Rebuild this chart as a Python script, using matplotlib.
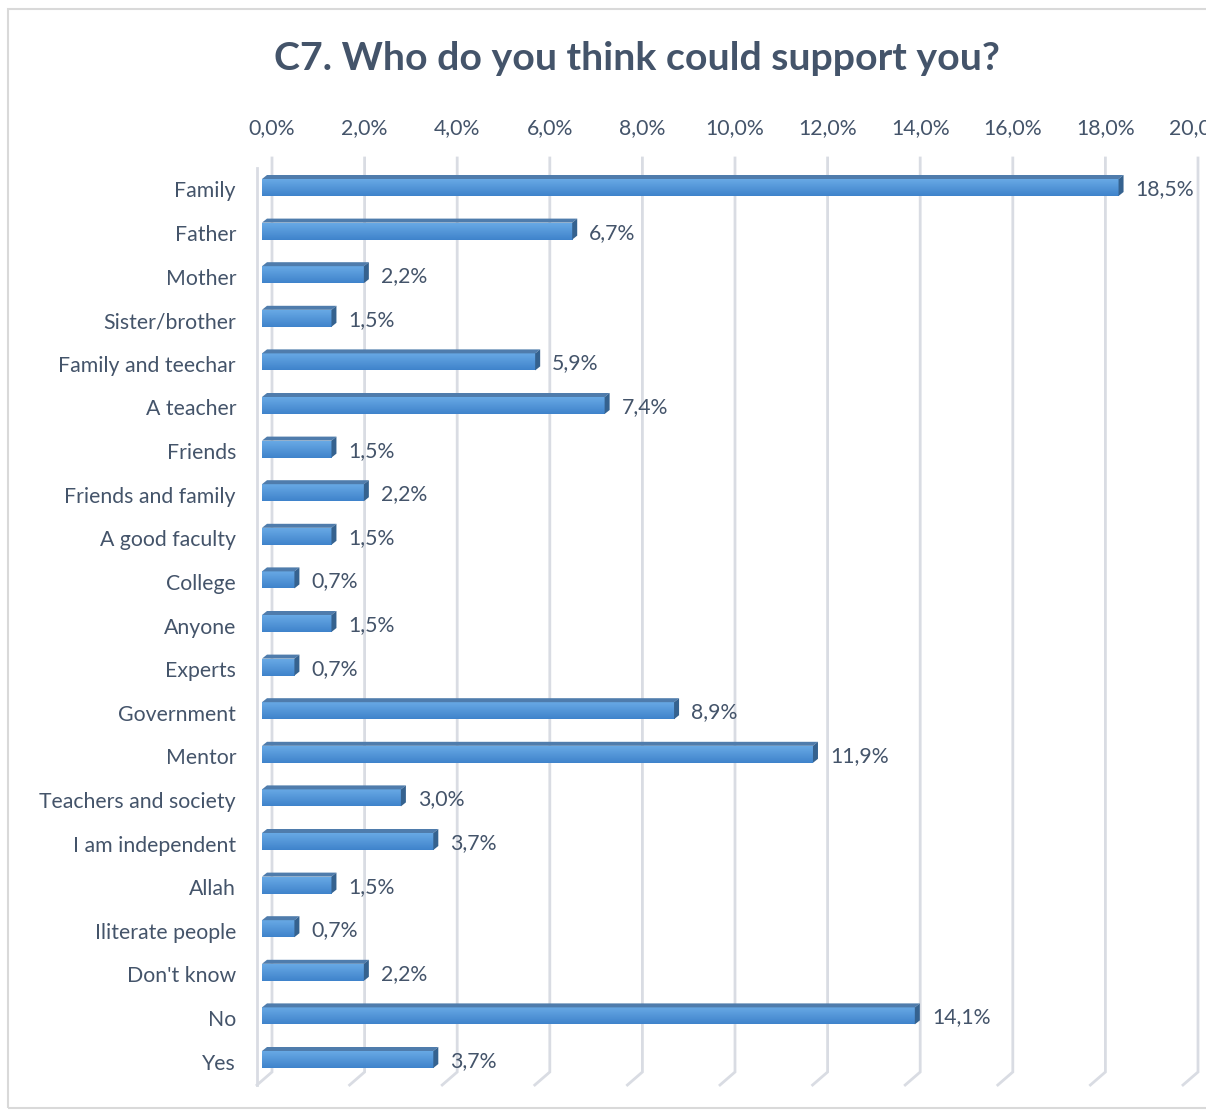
import numpy as np
import matplotlib
matplotlib.use("Agg")
import matplotlib.pyplot as plt
from matplotlib.patches import Polygon, Rectangle
from matplotlib.colors import LinearSegmentedColormap

categories = [
    "Family", "Father", "Mother", "Sister/brother", "Family and teechar",
    "A teacher", "Friends", "Friends and family", "A good faculty", "College",
    "Anyone", "Experts", "Government", "Mentor", "Teachers and society",
    "I am independent", "Allah", "Iliterate people", "Don't know", "No", "Yes",
]
values = [18.5, 6.7, 2.2, 1.5, 5.9, 7.4, 1.5, 2.2, 1.5, 0.7, 1.5, 0.7,
          8.9, 11.9, 3.0, 3.7, 1.5, 0.7, 2.2, 14.1, 3.7]
tick_values = np.arange(0, 21, 2)
tick_labels = [f"{v:.1f}%".replace(".", ",") for v in tick_values]
value_labels = [f"{v:.1f}%".replace(".", ",") for v in values]
title = "C7. Who do you think could support you?"

W, H = 1206, 1112
TEXT = "#44546A"
GRID = "#D9DCE3"
FONT = "Lato"
FS = 15.3

plt.rcParams["font.family"] = [FONT, "DejaVu Sans"]

fig = plt.figure(figsize=(W / 100, H / 100), dpi=100)

# plot area in pixels
x0_px, unit_x = 262.0, 46.3          # pixels per percent
y0_px, unit_y = 187.5, 43.6          # pixels per category
top_px, bot_px = 150.0, 1085.0
ax = fig.add_axes([x0_px / W, 1 - bot_px / H, 20 * unit_x / W, (bot_px - top_px) / H])
ax.set_xlim(0, 20)
ax.set_ylim((bot_px - y0_px) / unit_y, (top_px - y0_px) / unit_y)
ax.axis("off")

px = 1.0 / unit_x       # one pixel horizontally in data units
py = 1.0 / unit_y       # one pixel vertically in data units
ypix = lambda p: (p - y0_px) / unit_y

# back wall gridlines and floor edges
for v, lab in zip(tick_values, tick_labels):
    xb = v + 10 * px
    ax.plot([xb, xb, v - 5 * px], [ypix(158), ypix(1072), ypix(1085)],
            color=GRID, lw=2.0, clip_on=False, zorder=1, solid_joinstyle="miter")
    ax.text(xb, ypix(128), lab, ha="center", va="center", fontsize=FS,
            color=TEXT, clip_on=False)
# side wall front edge
ax.plot([-5 * px, -5 * px], [ypix(168), ypix(1085)], color=GRID, lw=2.0,
        clip_on=False, zorder=1)

front_cmap = LinearSegmentedColormap.from_list("front", ["#68A9E5", "#3F83CB"])
grad = np.linspace(0, 1, 64).reshape(-1, 1)

h = 17 * py
dxs, dys = 5 * px, 4 * py
for i, (v, vl, cat) in enumerate(zip(values, value_labels, categories)):
    top = i - h / 2
    bottom = i + h / 2
    bar = ax.barh(i, v, height=h, left=0, color="#5599D8", edgecolor="none", zorder=3)[0]
    im = ax.imshow(grad, extent=(0, v, bottom, top), aspect="auto", cmap=front_cmap,
                   origin="upper", zorder=3.5, interpolation="bilinear")
    im.set_clip_path(bar)
    # top face
    ax.add_patch(Polygon([(0, top), (v, top), (v + dxs, top - dys), (dxs, top - dys)],
                         closed=True, facecolor="#4F7CAC", edgecolor="none", zorder=4))
    # right side face
    ax.add_patch(Polygon([(v, top), (v + dxs, top - dys), (v + dxs, bottom - dys), (v, bottom)],
                         closed=True, facecolor="#35628F", edgecolor="none", zorder=4))
    ax.text(v + 17 * px, i + 1.5 * py, vl, ha="left", va="center", fontsize=FS,
            color=TEXT, clip_on=False)
    ax.text(-26 * px, i + 4 * py, cat, ha="right", va="center", fontsize=FS,
            color=TEXT, clip_on=False)

ax.set_xlim(0, 20)
ax.set_ylim((bot_px - y0_px) / unit_y, (top_px - y0_px) / unit_y)

fig.text(637 / W, 1 - 58 / H, title, ha="center", va="center", fontsize=28.3,
         fontweight="bold", color=TEXT)

# chart border
fig.add_artist(Rectangle((8 / W, 1 - 1108 / H), (W + 20) / W, (1108 - 9) / H,
                         transform=fig.transFigure, fill=False, edgecolor="#D9D9D9",
                         lw=1.5, clip_on=False))

fig.savefig("out.png", dpi=100, facecolor="white")
